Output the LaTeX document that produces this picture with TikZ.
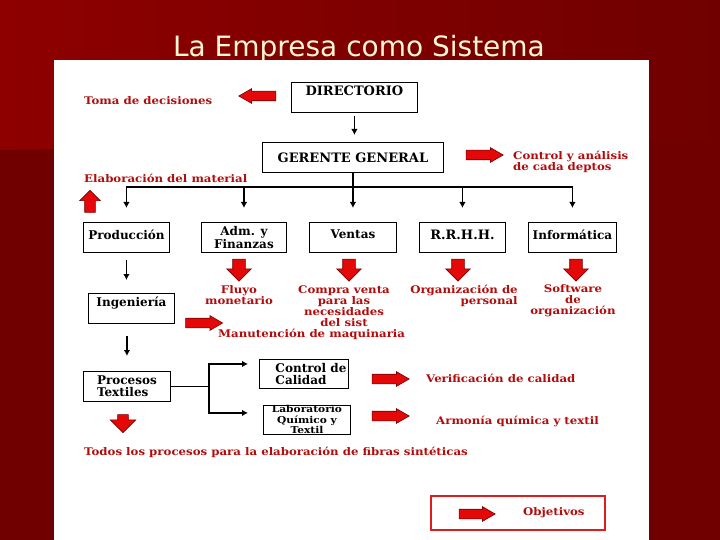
\documentclass[tikz,border=0pt]{standalone}
\usepackage{fontspec}
\setmainfont{DejaVu Serif}
\newfontfamily\titlefont{DejaVu Sans}
\newfontfamily\widefont[FakeStretch=1.12]{DejaVu Serif}
\usetikzlibrary{arrows.meta,calc,positioning,shapes.arrows}
\definecolor{bgdark}{RGB}{112,0,0}
\definecolor{bglight}{RGB}{142,0,0}
\definecolor{titlecol}{RGB}{255,246,214}
\definecolor{tred}{RGB}{178,12,12}
\definecolor{ared}{RGB}{228,8,8}
\definecolor{dkred}{RGB}{120,0,0}
\definecolor{legred}{RGB}{222,30,30}
\tikzset{
  ebox/.style   = {draw, line width=0.9pt, minimum height=30pt, inner sep=2pt,
                   align=center, font=\bfseries\fontsize{12}{12.5}\selectfont},
  capbox/.style = {ebox, font=\bfseries\fontsize{13}{13}\selectfont},
  wire/.style   = {line width=1.3pt, line cap=rect},
  flow/.style   = {-{Latex[length=6pt,width=6.5pt]}, line width=1.3pt},
  redtxt/.style = {text=tred, inner sep=0pt, align=center,
                   font=\widefont\bfseries\fontsize{10.5}{11}\selectfont},
  harrow/.style = {single arrow, draw=dkred, fill=ared, line width=0.6pt, inner sep=4.5pt,
                   minimum height=37pt, single arrow head extend=2.5pt,
                   single arrow tip angle=60},
  varrow/.style = {single arrow, draw=dkred, fill=ared, line width=0.6pt, inner sep=6pt,
                   minimum height=22pt, single arrow head extend=6pt,
                   shape border rotate=270},
}

\begin{document}
\begin{tikzpicture}[x=1pt,y=-1pt]
  \useasboundingbox (0,0) rectangle (720,540);
  \fill[bgdark] (0,0) rectangle (720,540);
  \shade[left color=bglight, right color=bgdark] (0,0) -- (720,0) -- (720,140) -- (0,150) -- cycle;
  \node[font=\titlefont\fontsize{28}{30}\selectfont, text=titlecol, anchor=base] (title)
    at (359,57) {La Empresa como Sistema};
  \fill[white] (54,60) rectangle (649,540);

  \node[capbox, minimum width=126pt, text depth=14pt, anchor=north west] (dir) at (291,82) {DIRECTORIO};
  \node[capbox, minimum width=181pt, anchor=north west] (ger) at (262,142) {GERENTE GENERAL};
  \node[ebox, minimum width=86pt, text depth=6pt, anchor=north west] (prod) at (83,222) {Producción};
  \node[ebox, minimum width=85pt, anchor=north west] (adm) at (201,222) {Adm. y\\Finanzas};
  \node[ebox, minimum width=87pt, text depth=6pt, anchor=north west] (ven) at (309,222) {Ventas};
  \node[capbox, minimum width=86pt, text depth=6pt, anchor=north west] (rrhh) at (419,222) {R.R.H.H.};
  \node[ebox, minimum width=88pt, text depth=6pt, anchor=north west] (inf) at (528,222) {Informática};
  \node[ebox, minimum width=86pt, text depth=14pt, anchor=north west] (ing) at (88,293) {Ingeniería};
  \node[ebox, minimum width=87pt, align=left, anchor=north west] (proc) at (83,371) {Procesos\\Textiles};
  \node[ebox, minimum width=89pt, minimum height=29pt, align=left, anchor=north west] (cal)
    at (259,359) {\hspace*{14pt}Control de\\\hspace*{14pt}Calidad};
  \node[ebox, minimum width=87pt, minimum height=29pt, inner sep=0pt, anchor=north west,
        font=\widefont\bfseries\fontsize{9.5}{10.5}\selectfont] (lab) at (263,405) {Laboratorio\\Químico y\\Textil};

  \draw[flow, shorten <=3pt, shorten >=7pt] (dir.south) -- (dir.south |- ger.north);
  \draw[wire] (ger.south) -- ++(0,14) coordinate (bus);
  \draw[wire] (bus -| prod) -- (bus -| inf);
  \foreach \b in {prod,adm,ven,rrhh,inf}
    \draw[flow, shorten >=14pt] (bus -| \b) -- (\b.north);
  \draw[flow, shorten <=7pt, shorten >=13pt] (prod.south) -- (prod.south |- ing.north);
  \draw[flow, shorten <=12pt, shorten >=15pt] (proc.north |- ing.south) -- (proc.north);
  \coordinate (split) at ($(proc.east)+(38,0)$);
  \draw[wire] (proc.east) -- (split);
  \draw[flow, shorten >=11pt] (split) |- ([yshift=10pt]cal.west);
  \draw[flow, shorten >=15pt] (split) |- ([yshift=7pt]lab.west);

  \node[redtxt, anchor=west] (toma) at (84,101) {Toma de decisiones};
  \node[harrow, shape border rotate=180] (atoma) at (261.5,96) {};
  \node[harrow] (ager) at (480.5,155) {};
  \node[redtxt, anchor=west, align=left] (ctrl) at (513,162) {Control y análisis\\de cada deptos};
  \node[redtxt, anchor=west] (elab) at (84,178) {Elaboración del material};
  \node[varrow, inner sep=5pt, single arrow head extend=5pt, shape border rotate=90] (aup) at (90,204) {};

  \node[varrow] (aadm) at (239,267) {};
  \node[varrow] (aven) at (349,267) {};
  \node[varrow] (arrhh) at (458,267) {};
  \node[varrow] (ainf) at (576,267) {};
  \node[redtxt] (fluyo) at (239,295.5) {Fluyo\\monetario};
  \node[redtxt] (compra) at (344,306.5) {Compra venta\\para las\\necesidades\\del sist};
  \node[redtxt, align=right] (org) at (464,295.5) {Organización de\\personal};
  \node[redtxt] (soft) at (573,301) {Software\\de\\organización};

  \node[harrow] (aing) at (200,323) {};
  \node[redtxt, anchor=west] (manut) at (218,334) {Manutención de maquinaria};

  \node[varrow, minimum height=18pt, inner sep=5pt, single arrow head extend=7.5pt] (aproc) at (123,421) {};
  \node[harrow] (acal) at (386.5,379) {};
  \node[harrow] (alab) at (386.5,416) {};
  \node[redtxt, anchor=west] (verif) at (426,378) {Verificación de calidad};
  \node[redtxt, anchor=west] (armon) at (436,421) {Armonía química y textil};
  \node[redtxt, anchor=west] (todos) at (84,452) {Todos los procesos para la elaboración de fibras sintéticas};

  \node[draw=legred, line width=1.6pt, minimum width=174pt, minimum height=34pt] (leg) at (518,513) {};
  \node[harrow, minimum height=36pt] (aleg) at (473,514) {};
  \node[redtxt, anchor=west] (obj) at (523,513) {Objetivos};
\end{tikzpicture}
\end{document}
